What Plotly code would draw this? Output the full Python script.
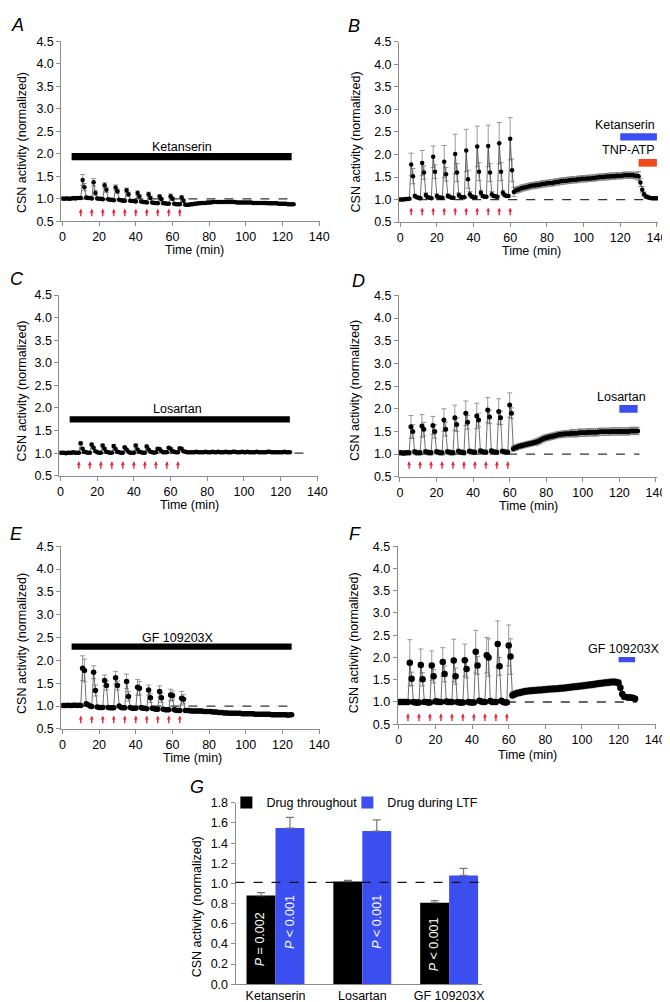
import plotly.graph_objects as go

W, H = 670, 1002
FONT = "Liberation Sans, Arial, Helvetica, sans-serif"

# ----------------------------- DATA -----------------------------
# Panel A: ketanserin throughout (1-min bins)
time_A = list(range(0, 127))
csn_A = [1.01,1.00,1.01,1.01,1.00,1.01,1.02,1.01,1.02,1.02,1.02,
         1.42,1.26,1.03,1.02,1.02,1.01,
         1.37,1.13,1.01,1.00,1.00,0.99,
         1.30,1.20,0.99,0.98,0.98,0.97,
         1.25,1.17,0.98,0.97,0.96,0.96,
         1.19,1.10,0.96,0.95,0.95,0.94,
         1.13,1.05,0.94,0.93,0.93,0.92,
         1.10,1.02,0.92,0.91,0.91,0.90,
         1.05,0.99,0.90,0.90,0.89,0.89,
         1.06,1.00,0.89,0.88,0.88,0.88,
         1.03,0.96,0.87,0.87,0.87,0.88,
         0.88,0.89,0.89,0.90,0.90,0.91,0.91,0.91,0.92,0.92,
         0.92,0.93,0.93,0.93,0.93,0.93,0.93,0.93,0.93,0.93,
         0.93,0.93,0.93,0.93,0.92,0.92,0.92,0.92,0.92,0.92,
         0.92,0.92,0.92,0.91,0.91,0.91,0.91,0.91,0.91,0.91,
         0.91,0.90,0.90,0.90,0.90,0.90,0.90,0.89,0.89,0.89,
         0.89,0.89,0.88,0.88,0.88,0.88]
err_A = [0.02,0.02,0.02,0.02,0.02,0.02,0.02,0.02,0.02,0.02,0.02,
         0.12,0.08,0.03,0.02,0.02,0.02,
         0.08,0.06,0.02,0.02,0.02,0.02,
         0.06,0.06,0.02,0.02,0.02,0.02,
         0.06,0.05,0.02,0.02,0.02,0.02,
         0.05,0.05,0.02,0.02,0.02,0.02,
         0.05,0.04,0.02,0.02,0.02,0.02,
         0.05,0.04,0.02,0.02,0.02,0.02,
         0.04,0.04,0.02,0.02,0.02,0.02,
         0.05,0.04,0.02,0.02,0.02,0.02,
         0.04,0.04,0.02,0.02,0.02,0.02,
         0.02,0.02,0.02,0.02,0.02,0.02,0.02,0.02,0.02,0.02,
         0.02,0.02,0.02,0.02,0.02,0.02,0.02,0.02,0.02,0.02,
         0.02,0.02,0.02,0.02,0.02,0.02,0.02,0.02,0.02,0.02,
         0.02,0.02,0.02,0.02,0.02,0.02,0.02,0.02,0.02,0.02,
         0.02,0.02,0.02,0.02,0.02,0.02,0.02,0.02,0.02,0.02,
         0.02,0.02,0.02,0.02,0.02,0.02]
arrows_A = [10, 16, 22, 28, 34, 40, 46, 52, 58, 64]
drug_A = ["Ketanserin", 5, 125]

# Panel B: ketanserin during LTF, then TNP-ATP
time_B = list(range(0, 141))
csn_B = [1.00,1.00,1.00,1.01,1.01,1.02,
         1.78,1.52,1.08,1.05,1.04,1.03,
         1.81,1.60,1.10,1.05,1.04,1.03,
         1.95,1.62,1.08,1.05,1.04,1.04,
         1.84,1.56,1.08,1.06,1.04,1.04,
         2.01,1.60,1.10,1.06,1.05,1.05,
         2.09,1.45,1.12,1.07,1.05,1.05,
         2.18,1.62,1.15,1.08,1.06,1.06,
         2.19,1.60,1.12,1.08,1.07,1.06,
         2.25,1.62,1.15,1.10,1.08,1.08,
         2.35,1.65,
         1.17,1.20,1.22,1.23,1.25,1.26,1.27,1.28,1.29,
         1.30,1.31,1.31,1.32,1.33,1.33,1.34,1.35,1.35,1.36,
         1.36,1.37,1.37,1.38,1.39,1.39,1.40,1.41,1.41,1.42,
         1.42,1.43,1.43,1.44,1.44,1.44,1.45,1.45,1.46,1.46,
         1.46,1.47,1.47,1.47,1.48,1.48,1.49,1.49,1.50,1.50,
         1.50,1.51,1.51,1.51,1.52,1.52,1.52,1.53,1.53,1.53,
         1.53,1.54,1.54,1.54,1.54,1.54,1.54,1.53,1.53,1.52,
         1.38,1.22,1.12,1.07,1.05,1.04,1.03,1.03,1.03,1.03]
err_B = [0.02,0.02,0.02,0.02,0.02,0.02,
         0.25,0.17,0.04,0.03,0.02,0.02,
         0.28,0.15,0.05,0.03,0.02,0.02,
         0.24,0.15,0.05,0.03,0.02,0.02,
         0.36,0.15,0.05,0.03,0.02,0.02,
         0.44,0.20,0.05,0.03,0.02,0.02,
         0.47,0.20,0.06,0.03,0.02,0.02,
         0.45,0.20,0.06,0.03,0.02,0.02,
         0.46,0.20,0.06,0.03,0.02,0.02,
         0.46,0.20,0.06,0.04,0.03,0.03,
         0.47,0.25,
         0.10,0.07,0.07,0.07,0.07,0.07,0.07,0.07,0.07,
         0.07,0.07,0.07,0.07,0.07,0.07,0.07,0.07,0.07,0.07,
         0.07,0.07,0.07,0.07,0.07,0.07,0.07,0.07,0.07,0.07,
         0.07,0.07,0.07,0.07,0.07,0.07,0.07,0.07,0.07,0.07,
         0.07,0.07,0.07,0.07,0.07,0.07,0.07,0.07,0.07,0.07,
         0.07,0.07,0.07,0.07,0.07,0.07,0.07,0.07,0.07,0.07,
         0.07,0.07,0.07,0.07,0.07,0.07,0.07,0.07,0.08,0.10,
         0.09,0.07,0.05,0.04,0.03,0.02,0.02,0.02,0.02,0.02]
arrows_B = [6, 12, 18, 24, 30, 36, 42, 48, 54, 60]
drug_B = ["Ketanserin", 120, 140]
drug_B2 = ["TNP-ATP", 130, 140]

# Panel C: losartan throughout
time_C = list(range(0, 126))
csn_C = [1.01,1.01,1.01,1.00,1.01,1.01,1.01,1.02,1.01,1.01,1.01,
         1.22,1.10,1.03,1.02,1.01,1.01,
         1.19,1.12,1.04,1.02,1.01,1.01,
         1.17,1.10,1.03,1.02,1.01,1.01,
         1.16,1.09,1.03,1.02,1.01,1.01,
         1.13,1.08,1.03,1.01,1.01,1.01,
         1.17,1.08,1.03,1.02,1.01,1.01,
         1.15,1.08,1.03,1.02,1.01,1.02,
         1.10,1.09,1.04,1.02,1.02,1.02,
         1.12,1.10,1.04,1.03,1.02,1.02,
         1.11,1.10,1.04,1.03,1.02,1.02,
         1.02,1.02,1.02,1.03,1.02,1.02,1.02,1.02,1.03,1.02,
         1.02,1.02,1.03,1.02,1.02,1.03,1.02,1.02,1.02,1.03,
         1.02,1.02,1.02,1.03,1.03,1.02,1.02,1.02,1.03,1.02,
         1.02,1.03,1.02,1.02,1.02,1.02,1.03,1.02,1.02,1.02,
         1.02,1.02,1.03,1.03,1.02,1.02,1.02,1.02,1.02,1.02,
         1.02,1.03,1.02,1.02,1.02]
err_C = [0.01,0.01,0.01,0.01,0.01,0.01,0.01,0.01,0.01,0.01,0.01,
         0.03,0.02,0.01,0.01,0.01,0.01,
         0.03,0.02,0.01,0.01,0.01,0.01,
         0.03,0.02,0.01,0.01,0.01,0.01,
         0.03,0.02,0.01,0.01,0.01,0.01,
         0.02,0.02,0.01,0.01,0.01,0.01,
         0.03,0.02,0.01,0.01,0.01,0.01,
         0.03,0.02,0.01,0.01,0.01,0.01,
         0.02,0.02,0.01,0.01,0.01,0.01,
         0.02,0.02,0.01,0.01,0.01,0.01,
         0.02,0.02,0.01,0.01,0.01,0.01,
         0.01,0.01,0.01,0.01,0.01,0.01,0.01,0.01,0.01,0.01,
         0.01,0.01,0.01,0.01,0.01,0.01,0.01,0.01,0.01,0.01,
         0.01,0.01,0.01,0.01,0.01,0.01,0.01,0.01,0.01,0.01,
         0.01,0.01,0.01,0.01,0.01,0.01,0.01,0.01,0.01,0.01,
         0.01,0.01,0.01,0.01,0.01,0.01,0.01,0.01,0.01,0.01,
         0.01,0.01,0.01,0.01,0.01]
arrows_C = [10, 16, 22, 28, 34, 40, 46, 52, 58, 64]
drug_C = ["Losartan", 5, 125]

# Panel D: losartan during LTF
time_D = list(range(0, 131))
csn_D = [1.03,1.03,1.02,1.03,1.03,1.03,
         1.60,1.50,1.05,1.03,1.03,1.03,
         1.62,1.55,1.05,1.04,1.03,1.03,
         1.63,1.50,1.05,1.04,1.03,1.03,
         1.75,1.55,1.05,1.04,1.03,1.03,
         1.80,1.65,1.06,1.04,1.04,1.03,
         1.90,1.70,1.06,1.05,1.04,1.04,
         1.84,1.75,1.07,1.05,1.04,1.04,
         1.97,1.82,1.07,1.05,1.04,1.04,
         1.94,1.80,1.06,1.05,1.04,1.04,
         2.08,1.90,
         1.12,1.14,1.15,1.17,1.18,1.19,1.20,1.21,1.22,
         1.23,1.24,1.25,1.26,1.27,1.29,1.31,1.33,1.35,1.36,
         1.37,1.38,1.39,1.40,1.41,1.42,1.43,1.43,1.44,1.44,
         1.45,1.45,1.45,1.46,1.46,1.46,1.46,1.47,1.47,1.47,
         1.47,1.47,1.48,1.48,1.48,1.48,1.48,1.48,1.49,1.49,
         1.49,1.49,1.49,1.49,1.49,1.50,1.50,1.50,1.50,1.50,
         1.50,1.50,1.50,1.50,1.50,1.51,1.51,1.51,1.51,1.51]
err_D = [0.05,0.05,0.05,0.05,0.05,0.05,
         0.25,0.15,0.05,0.05,0.05,0.05,
         0.25,0.15,0.05,0.05,0.05,0.05,
         0.20,0.15,0.05,0.05,0.05,0.05,
         0.25,0.15,0.05,0.05,0.05,0.05,
         0.28,0.15,0.05,0.05,0.05,0.05,
         0.27,0.15,0.05,0.05,0.05,0.05,
         0.28,0.15,0.05,0.05,0.05,0.05,
         0.28,0.15,0.05,0.05,0.05,0.05,
         0.28,0.15,0.05,0.05,0.05,0.05,
         0.27,0.12,
         0.06,0.06,0.06,0.06,0.06,0.06,0.06,0.06,0.06,
         0.06,0.06,0.06,0.07,0.07,0.07,0.07,0.07,0.07,0.07,
         0.07,0.07,0.07,0.07,0.07,0.07,0.07,0.07,0.07,0.07,
         0.07,0.07,0.07,0.08,0.08,0.08,0.08,0.08,0.08,0.08,
         0.08,0.08,0.08,0.08,0.08,0.08,0.08,0.08,0.08,0.08,
         0.08,0.08,0.08,0.08,0.08,0.08,0.08,0.08,0.08,0.08,
         0.08,0.08,0.08,0.08,0.08,0.08,0.08,0.08,0.08,0.08]
arrows_D = [5, 11, 17, 23, 29, 35, 41, 47, 53, 59]
drug_D = ["Losartan", 120, 130]

# Panel E: GF 109203X throughout
time_E = list(range(0, 126))
csn_E = [1.01,1.01,1.01,1.02,1.01,1.01,1.02,1.02,1.01,1.02,1.01,
         1.83,1.78,1.05,1.03,1.00,0.99,
         1.74,1.34,0.98,0.97,0.97,0.97,
         1.56,1.45,0.97,0.96,0.96,0.96,
         1.62,1.45,1.00,0.97,0.96,0.96,
         1.54,1.21,0.97,0.95,0.95,0.95,
         1.41,1.39,0.96,0.95,0.95,0.94,
         1.35,1.18,0.95,0.94,0.93,0.93,
         1.32,1.18,0.93,0.92,0.92,0.92,
         1.24,1.23,0.92,0.91,0.90,0.90,
         1.17,1.15,0.90,0.90,0.90,0.89,
         0.89,0.89,0.89,0.89,0.89,0.89,0.88,0.88,0.88,0.88,
         0.88,0.87,0.87,0.87,0.86,0.86,0.86,0.85,0.85,0.85,
         0.84,0.84,0.84,0.84,0.84,0.84,0.84,0.83,0.83,0.83,
         0.83,0.83,0.83,0.83,0.82,0.82,0.82,0.82,0.82,0.82,
         0.82,0.82,0.82,0.81,0.81,0.81,0.81,0.81,0.81,0.81,
         0.81,0.81,0.80,0.81,0.81]
err_E = [0.01,0.01,0.01,0.01,0.01,0.01,0.01,0.01,0.01,0.01,0.01,
         0.27,0.25,0.03,0.02,0.01,0.01,
         0.14,0.12,0.02,0.01,0.01,0.01,
         0.12,0.10,0.01,0.01,0.01,0.01,
         0.14,0.10,0.02,0.01,0.01,0.01,
         0.16,0.10,0.01,0.01,0.01,0.01,
         0.17,0.15,0.01,0.01,0.01,0.01,
         0.11,0.10,0.01,0.01,0.01,0.01,
         0.12,0.10,0.01,0.01,0.01,0.01,
         0.13,0.10,0.01,0.01,0.01,0.01,
         0.15,0.10,0.01,0.01,0.01,0.01,
         0.01,0.01,0.01,0.01,0.01,0.01,0.01,0.01,0.01,0.01,
         0.01,0.01,0.01,0.01,0.01,0.01,0.01,0.01,0.01,0.01,
         0.01,0.01,0.01,0.01,0.01,0.01,0.01,0.01,0.01,0.01,
         0.01,0.01,0.01,0.01,0.01,0.01,0.01,0.01,0.01,0.01,
         0.01,0.01,0.01,0.01,0.01,0.01,0.01,0.01,0.01,0.01,
         0.01,0.01,0.01,0.01,0.01]
arrows_E = [10, 16, 22, 28, 34, 40, 46, 52, 58, 64]
drug_E = ["GF 109203X", 5, 125]

# Panel F: GF 109203X during LTF
time_F = list(range(0, 130))
csn_F = [1.00,1.00,1.00,1.00,1.00,1.00,
         1.88,1.52,1.00,0.99,0.99,0.99,
         1.83,1.51,1.00,1.00,0.99,0.99,
         1.82,1.58,1.01,1.01,1.00,1.00,
         1.90,1.63,1.01,1.00,1.00,1.00,
         1.93,1.58,1.00,0.99,0.99,0.99,
         1.94,1.74,1.00,0.99,0.99,0.99,
         2.13,1.82,1.03,1.01,1.00,1.00,
         2.05,2.00,1.02,1.00,1.00,1.00,
         2.30,1.80,1.03,1.00,0.99,0.99,
         2.27,2.02,
         1.15,1.17,1.19,1.20,1.21,1.22,1.23,1.24,1.24,
         1.25,1.25,1.26,1.26,1.26,1.27,1.27,1.27,1.28,1.28,
         1.28,1.29,1.29,1.29,1.30,1.30,1.30,1.31,1.31,1.31,
         1.32,1.32,1.33,1.33,1.34,1.34,1.35,1.35,1.36,1.36,
         1.37,1.37,1.38,1.38,1.39,1.39,1.40,1.41,1.41,1.42,
         1.42,1.43,1.43,1.44,1.44,1.45,1.45,1.45,1.44,1.43,
         1.32,1.18,1.12,1.11,1.10,1.10,1.10,1.09,1.07]
err_F = [0.02,0.02,0.02,0.02,0.02,0.02,
         0.52,0.15,0.03,0.02,0.02,0.02,
         0.36,0.15,0.03,0.02,0.02,0.02,
         0.33,0.15,0.03,0.02,0.02,0.02,
         0.32,0.18,0.03,0.02,0.02,0.02,
         0.48,0.18,0.03,0.02,0.02,0.02,
         0.36,0.20,0.03,0.02,0.02,0.02,
         0.48,0.20,0.03,0.02,0.02,0.02,
         0.40,0.42,0.03,0.02,0.02,0.02,
         0.52,0.20,0.03,0.02,0.02,0.02,
         0.46,0.40,
         0.08,0.07,0.07,0.07,0.07,0.07,0.07,0.07,0.07,
         0.07,0.07,0.07,0.07,0.07,0.07,0.07,0.07,0.07,0.07,
         0.07,0.07,0.07,0.07,0.07,0.07,0.07,0.07,0.07,0.07,
         0.07,0.07,0.07,0.07,0.07,0.07,0.07,0.07,0.07,0.07,
         0.07,0.07,0.07,0.07,0.07,0.07,0.07,0.07,0.07,0.07,
         0.07,0.07,0.07,0.07,0.07,0.07,0.07,0.07,0.07,0.07,
         0.06,0.05,0.05,0.05,0.05,0.05,0.05,0.05,0.05]
arrows_F = [5, 11, 17, 23, 29, 35, 41, 47, 53, 59]
drug_F = ["GF 109203X", 120, 129]

# Panel G: summary bars
drugs_G = ["Ketanserin", "Losartan", "GF 109203X"]
throughout_G = [0.88, 1.02, 0.81]
throughout_err_G = [0.03, 0.01, 0.02]
ltf_G = [1.55, 1.52, 1.08]
ltf_err_G = [0.105, 0.11, 0.07]
p_throughout_G = ["<i>P</i> = 0.002", "", "<i>P</i> < 0.001"]
p_ltf_G = ["<i>P</i> < 0.001", "<i>P</i> < 0.001", ""]

# ----------------------------- STYLE / LAYOUT -----------------------------
BLUE = "#3b4ef0"
RED_BAR = "#f0491e"
ARROW = "#e8263c"
AXC = "#8c8c8c"
TICKF = dict(size=12.5, family=FONT, color="black")

# pixel geometry: (x of t=0, x of t=140, y of 4.5, y of 0.5)
panels = [
    dict(L="A", t=time_A, y=csn_A, e=err_A, ar=arrows_A, geo=(53.3, 314.3, 26.7, 209.3),
         dash=125, ary=0.78, ms=4.5, letter=(8, 10), ttl=(188, 238), ytl=(12, 129),
         bars=[(drug_A, "#000000", 1.86, 2.02, 65, 2.15, "center")]),
    dict(L="B", t=time_B, y=csn_B, e=err_B, ar=arrows_B, geo=(396.7, 657.7, 27.3, 210),
         dash=140, ary=0.82, ms=4.5, letter=(350, 11), ttl=(530, 239), ytl=(352, 129),
         bars=[(drug_B, BLUE, 2.31, 2.47, 140, 2.65, "right"),
               (drug_B2, RED_BAR, 1.73, 1.90, 140, 2.10, "right")]),
    dict(L="C", t=time_C, y=csn_C, e=err_C, ar=arrows_C, geo=(51.3, 312.5, 284, 467.3),
         dash=135, ary=0.82, ms=4.5, letter=(7, 268), ttl=(182, 497), ytl=(12, 381),
         bars=[(drug_C, "#000000", 1.68, 1.82, 64, 1.97, "center")]),
    dict(L="D", t=time_D, y=csn_D, e=err_D, ar=arrows_D, geo=(396.5, 656.7, 284.3, 468.3),
         dash=131, ary=0.84, ms=5, letter=(354, 270), ttl=(527, 498), ytl=(350, 381),
         bars=[(drug_D, BLUE, 1.91, 2.08, 121, 2.25, "center")]),
    dict(L="E", t=time_E, y=csn_E, e=err_E, ar=arrows_E, geo=(53.3, 314.3, 538.7, 724),
         dash=125, ary=0.79, ms=5.5, letter=(7, 526), ttl=(186, 754), ytl=(12, 637),
         bars=[(drug_E, "#000000", 2.23, 2.37, 63, 2.49, "center")]),
    dict(L="F", t=time_F, y=csn_F, e=err_F, ar=arrows_F, geo=(395.3, 656.0, 538.7, 719.3),
         dash=130, ary=0.74, ms=6.5, letter=(351, 526), ttl=(526, 750), ytl=(350, 637),
         bars=[(drug_F, BLUE, 1.89, 2.01, 123, 2.2, "center")]),
]

fig = go.Figure()
layout = dict(width=W, height=H, margin=dict(l=0, r=0, t=0, b=0),
              paper_bgcolor="white", plot_bgcolor="white",
              font=dict(family=FONT, size=12, color="black"),
              showlegend=True)
shapes, annotations = [], []

def px_x(p):
    return p / W

def px_y(p):
    return 1 - p / H

for i, P in enumerate(panels, start=1):
    xa = "xaxis" if i == 1 else f"xaxis{i}"
    ya = "yaxis" if i == 1 else f"yaxis{i}"
    xr = "x" if i == 1 else f"x{i}"
    yr = "y" if i == 1 else f"y{i}"
    x0p, x140p, y45p, y05p = P["geo"]
    u = (x140p - x0p) / 140.0
    lo, hi = -0.6, 140.6
    layout[xa] = dict(domain=[px_x(x0p + lo * u), px_x(x140p + (hi - 140) * u)],
                      range=[lo, hi], anchor=yr, tickvals=[0, 20, 40, 60, 80, 100, 120, 140],
                      showline=True, linecolor=AXC, linewidth=1, ticks="outside",
                      ticklen=4, tickcolor=AXC, showgrid=False, zeroline=False,
                      tickfont=TICKF)
    layout[ya] = dict(domain=[px_y(y05p), px_y(y45p)], range=[0.5, 4.5], anchor=xr,
                      tickvals=[0.5, 1.0, 1.5, 2.0, 2.5, 3.0, 3.5, 4.0, 4.5],
                      ticktext=["0.5", "1.0", "1.5", "2.0", "2.5", "3.0", "3.5", "4.0", "4.5"],
                      showline=True, linecolor=AXC, linewidth=1, ticks="outside",
                      ticklen=4, tickcolor=AXC, showgrid=False, zeroline=False,
                      tickfont=TICKF)
    fig.add_trace(go.Scatter(
        x=P["t"], y=P["y"], xaxis=xr, yaxis=yr, mode="lines+markers", showlegend=False,
        line=dict(color="#4a4a4a", width=0.8),
        marker=dict(color="black", size=P["ms"]),
        error_y=dict(type="data", array=P["e"], color="#808080", thickness=0.8, width=2.5)))
    # dashed baseline
    shapes.append(dict(type="line", xref=xr, yref=yr, x0=0, x1=P["dash"], y0=1.0, y1=1.0,
                       line=dict(color="#333333", width=1.3, dash="dash"), layer="below"))
    # drug bars
    for (drug, col, yb0, yb1, tx, ty, anc) in P["bars"]:
        name, t0, t1 = drug
        shapes.append(dict(type="rect", xref=xr, yref=yr, x0=t0, x1=t1, y0=yb0, y1=yb1,
                           fillcolor=col, line=dict(width=0), layer="above"))
        annotations.append(dict(text=name, xref=xr, yref=yr, x=tx, y=ty, showarrow=False,
                                xanchor=anc, yanchor="middle",
                                font=dict(size=12.5, family=FONT, color="black")))
    # red arrows (hypoxic episodes)
    for a in P["ar"]:
        annotations.append(dict(text="", xref=xr, yref=yr, x=a, y=P["ary"], showarrow=True,
                                ax=0, ay=9, arrowhead=2, arrowsize=0.55, arrowwidth=1.4,
                                arrowcolor=ARROW, standoff=0))
    # panel letter
    annotations.append(dict(text=f"<i>{P['L']}</i>", xref="paper", yref="paper",
                            x=px_x(P["letter"][0]), y=px_y(P["letter"][1]),
                            xanchor="center", yanchor="middle", showarrow=False,
                            font=dict(size=18, family=FONT, color="black")))
    # axis titles
    annotations.append(dict(text="Time (min)", xref="paper", yref="paper",
                            x=px_x(P["ttl"][0]), y=px_y(P["ttl"][1]),
                            xanchor="center", yanchor="middle", showarrow=False,
                            font=dict(size=12.5, family=FONT, color="black")))
    annotations.append(dict(text="CSN activity (normalized)", xref="paper", yref="paper",
                            x=px_x(P["ytl"][0]), y=px_y(P["ytl"][1]), textangle=-90,
                            xanchor="center", yanchor="middle", showarrow=False,
                            font=dict(size=12.5, family=FONT, color="black")))

# ---- Panel G ----
gx0, gx1, gy_top, gy_bot = 229.3, 480.0, 799.0, 983.0
layout["xaxis7"] = dict(domain=[px_x(gx0), px_x(gx1)], range=[-0.46, 2.38], anchor="y7",
                        type="category", showline=True, linecolor=AXC, linewidth=1,
                        ticks="", showgrid=False, zeroline=False, tickfont=TICKF)
layout["yaxis7"] = dict(domain=[px_y(gy_bot), px_y(gy_top)], range=[0, 1.8], anchor="x7",
                        tickvals=[0, 0.2, 0.4, 0.6, 0.8, 1.0, 1.2, 1.4, 1.6, 1.8],
                        tickformat=".1f", showline=True, linecolor=AXC, linewidth=1,
                        ticks="outside", ticklen=4, tickcolor=AXC, showgrid=False,
                        zeroline=False, tickfont=TICKF)
fig.add_trace(go.Bar(x=drugs_G, y=throughout_G, name="Drug throughout", xaxis="x7", yaxis="y7",
                     legend="legend",
                     marker=dict(color="black", line=dict(width=0)),
                     error_y=dict(type="data", array=throughout_err_G, arrayminus=[0, 0, 0],
                                  symmetric=False, color="#777777", thickness=1.2, width=4)))
fig.add_trace(go.Bar(x=drugs_G, y=ltf_G, name="Drug during LTF", xaxis="x7", yaxis="y7",
                     legend="legend2",
                     marker=dict(color=BLUE, line=dict(width=0)),
                     error_y=dict(type="data", array=ltf_err_G, arrayminus=[0, 0, 0],
                                  symmetric=False, color="#777777", thickness=1.2, width=4)))
layout["barmode"] = "group"
layout["bargap"] = 0.333
layout["bargroupgap"] = 0.0
shapes.append(dict(type="line", xref="x7 domain", yref="y7", x0=0, x1=1, y0=1.01, y1=1.01,
                   line=dict(color="#111111", width=1.2, dash="dash"), layer="above"))
p_pos_throughout = [0.445, 0.0, 0.40]
p_pos_ltf = [0.62, 0.62, 0.0]
for k, d in enumerate(drugs_G):
    if p_throughout_G[k]:
        annotations.append(dict(text=p_throughout_G[k], xref="x7", yref="y7", x=d,
                                y=p_pos_throughout[k], xshift=-14.7, textangle=-90,
                                showarrow=False, font=dict(size=12.5, family=FONT, color="white")))
    if p_ltf_G[k]:
        annotations.append(dict(text=p_ltf_G[k], xref="x7", yref="y7", x=d,
                                y=p_pos_ltf[k], xshift=14.7, textangle=-90,
                                showarrow=False, font=dict(size=12.5, family=FONT, color="white")))
annotations.append(dict(text="<i>G</i>", xref="paper", yref="paper", x=px_x(190), y=px_y(783),
                        xanchor="center", yanchor="middle", showarrow=False,
                        font=dict(size=18, family=FONT, color="black")))
annotations.append(dict(text="CSN activity (normalized)", xref="paper", yref="paper",
                        x=px_x(190), y=px_y(904), textangle=-90, xanchor="center",
                        yanchor="middle", showarrow=False,
                        font=dict(size=12.5, family=FONT, color="black")))

leg_common = dict(orientation="h", xanchor="left", yanchor="middle",
                  bgcolor="rgba(0,0,0,0)", borderwidth=0, itemclick=False,
                  font=dict(size=12.5, family=FONT, color="black"))
layout["legend"] = dict(x=px_x(220), y=px_y(799), **leg_common)
layout["legend2"] = dict(x=px_x(343), y=px_y(799), **leg_common)
layout["shapes"] = shapes
layout["annotations"] = annotations
fig.update_layout(**layout)

fig.write_html("out.html")
